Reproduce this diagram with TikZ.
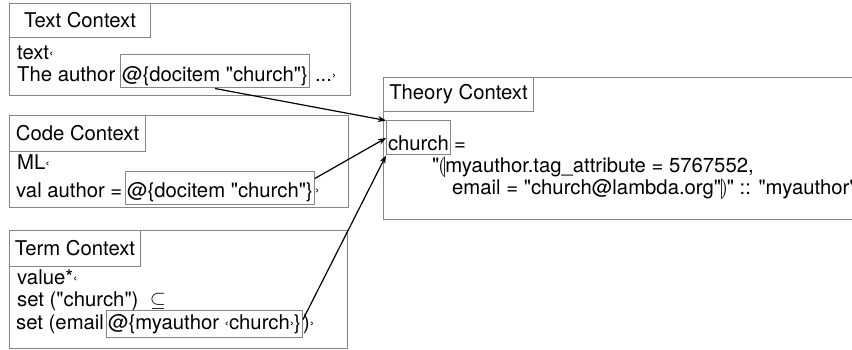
\documentclass[tikz,border=0pt]{standalone}
\usepackage{fontspec}
\setmainfont{TeX Gyre Heros}[Ligatures=TeXOff]
\usepackage{stmaryrd}
\usetikzlibrary{arrows.meta}
\definecolor{framegray}{HTML}{858585}
\newcommand\ctxfont{\fontsize{20.3}{24}\selectfont}
\newcommand\gl[1]{\raisebox{2pt}{\fontsize{13}{13}\selectfont #1}}
\newcommand\imgopen{\kern-1pt$\llparenthesis$\kern-1pt}
\newcommand\imgclose{\kern-0.3pt$\rrparenthesis$\kern-2pt}
\begin{document}
\begin{tikzpicture}[x=1pt,y=-1pt,
  font=\ctxfont,
  frame/.style={draw=framegray, line width=1pt, anchor=north west, inner sep=0pt},
  titlebox/.style={frame, align=center},
  codeline/.style={anchor=base west, inner sep=0pt},
  mark box/.style={draw=framegray, line width=1pt, anchor=base west, inner ysep=0pt, inner xsep=1.5pt},
  link/.style={-{Stealth[length=8pt,width=6pt]}, line width=1.2pt, black}
]
\clip (0,0) rectangle (852,350);
\useasboundingbox (0,0) rectangle (852,350);

% ---------- Text Context ----------
\node[frame, minimum width=341pt, minimum height=92pt] (textctx) at (9,3) {};
\node[titlebox, minimum width=141pt, minimum height=34pt] (texttitle) at (9,3) {Text Context};
\node[codeline] (t1) at (17,60) {text\gl{‹}};
\node[codeline] (t2) at (17,82) {The author};
\node[mark box, text height=27pt, text depth=6pt] (hl1) at (120,82) {@\{docitem "church"\}};
\node[codeline] (t3) at ([xshift=5pt]hl1.base east) {...\gl{›}};

% ---------- Code Context ----------
\node[frame, minimum width=339pt, minimum height=92pt] (codectx) at (9,115) {};
\node[titlebox, minimum width=136pt, minimum height=36pt] (codetitle) at (9,115) {Code Context};
\node[codeline] (c1) at (17,170) {ML\gl{‹}};
\node[codeline] (c2) at (16,197) {val author =};
\node[mark box, text height=25pt, text depth=8pt] (hl2) at (125,197) {@\{docitem "church"\}};
\node[codeline] (c3) at (hl2.base east) {\gl{›}};

% ---------- Term Context ----------
\node[frame, minimum width=338pt, minimum height=118pt] (termctx) at (9,230) {};
\node[titlebox, minimum width=131pt, minimum height=36pt] (termtitle) at (9,230) {Term Context};
\node[codeline] (m1) at (17,284) {value*\gl{‹}};
\node[codeline] (m2) at (17,306) {set ("church")\ \ $\subseteq$};
\node[codeline] (m3) at (16,329) {set (email};
\node[mark box, text height=19pt, text depth=8pt] (hl3) at (106,329) {@\{myauthor \gl{‹}church\gl{›}\}};
\node[codeline] (m4) at (hl3.base east) {)\gl{›}};

% ---------- Theory Context ----------
\node[frame, minimum width=480pt, minimum height=142pt] (theoryctx) at (383,77) {};
\node[titlebox, minimum width=150pt, minimum height=34pt] (theorytitle) at (383,77) {Theory Context};
\node[mark box, text height=30pt, text depth=4pt] (church) at (386,151) {church};
\node[codeline] (h1) at ([xshift=3pt]church.base east) {=};
\node[codeline] (h2) at (432,173) {"\imgopen myauthor.tag\_attribute = 5767552,};
\node[codeline] (h3) at (452,195) {email = "church@lambda.org"\imgclose" :: "myauthor"};

% ---------- references into the theory ----------
\draw[link] (hl1.south) -- (church.north west);
\draw[link] ([yshift=-7pt]hl2.north east) -- (church.west);
\draw[link] ([yshift=4pt]hl3.east) -- (church.south west);
\end{tikzpicture}
\end{document}
